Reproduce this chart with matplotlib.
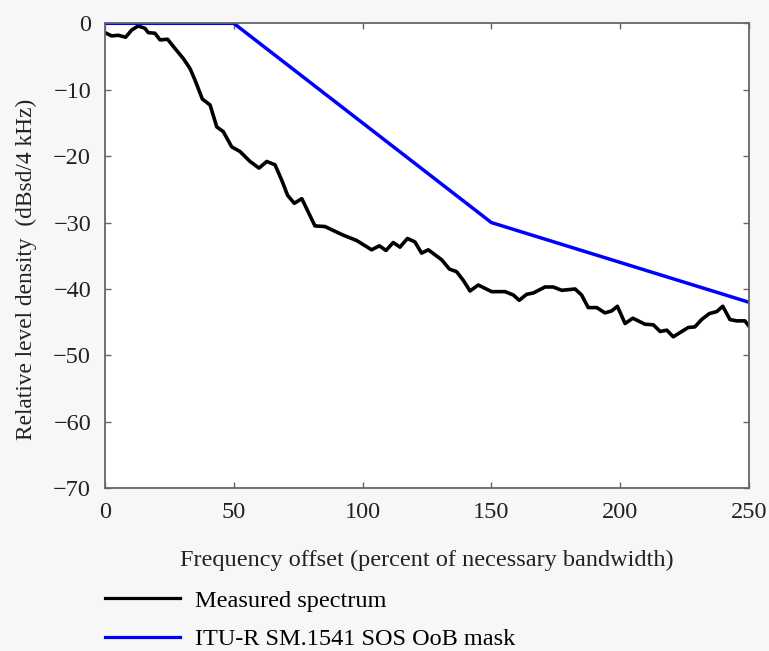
import matplotlib
matplotlib.use("Agg")
import matplotlib.pyplot as plt

# --- Donnees ----------------------------------------------------------------
freq_measured = [0, 2.6, 5.2, 8, 10.4, 12.9, 15.5, 16.8, 19.4, 21.4, 24.3, 27.2,
                 30.4, 33, 34.9, 37.8, 40.8, 43.4, 45.9, 49.2, 52.4, 56.3, 59.8,
                 62.8, 66, 68.6, 70.9, 73.5, 76.4, 78.9, 81.5, 85.4, 92.5, 97.7,
                 103.5, 106.5, 109.1, 111.9, 114.5, 117.4, 120.3, 122.9, 125.5,
                 130.7, 133.7, 136.5, 139.1, 141.7, 144.9, 150.1, 155.3, 158.5,
                 160.8, 163.7, 166.3, 170.8, 174, 177.3, 182.5, 185, 187.6, 190.9,
                 194.1, 196.7, 198.9, 201.9, 204.9, 209.6, 212.9, 215.5, 218.1,
                 220.6, 223.9, 226.4, 229, 231.6, 234.6, 237.5, 239.8, 242.6,
                 245.2, 248.4, 250]
level_measured = [-1.4, -1.9, -1.8, -2.1, -1.0, -0.4, -0.75, -1.4, -1.5, -2.5, -2.4,
                  -3.8, -5.3, -6.8, -8.5, -11.4, -12.3, -15.6, -16.3, -18.6, -19.3,
                  -20.8, -21.8, -20.8, -21.3, -23.6, -25.9, -27.1, -26.4, -28.4,
                  -30.5, -30.6, -31.9, -32.7, -34.1, -33.5, -34.2, -33.0, -33.7,
                  -32.4, -32.9, -34.6, -34.1, -35.6, -37.0, -37.4, -38.7, -40.3,
                  -39.4, -40.4, -40.4, -40.9, -41.7, -40.8, -40.6, -39.7, -39.7,
                  -40.2, -40.0, -40.9, -42.8, -42.8, -43.6, -43.3, -42.6, -45.2,
                  -44.4, -45.3, -45.4, -46.4, -46.2, -47.2, -46.4, -45.8, -45.7,
                  -44.6, -43.7, -43.4, -42.6, -44.6, -44.8, -44.8, -45.6]

freq_mask = [0, 50, 150, 250]
level_mask = [0, 0, -30, -42]

x_ticks = [0, 50, 100, 150, 200, 250]
y_ticks = [0, -10, -20, -30, -40, -50, -60, -70]

FS = 17.5
plt.rcParams["font.family"] = ["Liberation Serif", "DejaVu Serif"]
plt.rcParams["font.size"] = FS

fig = plt.figure(figsize=(7.69, 6.51), dpi=100, facecolor="#f7f7f7")
ax = fig.add_axes([0.1365, 0.25, 0.8375, 0.7142])
ax.set_facecolor("white")

ax.plot(freq_measured, level_measured, color="black", lw=2.6,
        label="Measured spectrum")
ax.plot(freq_mask, level_mask, color="#0000ff", lw=2.5,
        label="ITU-R SM.1541 SOS OoB mask")

ax.set_xlim(0, 250)
ax.set_ylim(-70, 0)
ax.set_xticks(x_ticks)
ax.set_yticks(y_ticks)
ax.tick_params(direction="in", length=4.5, width=1, colors="#666666",
               labelcolor="#222222", labelsize=FS, top=True, right=True, pad=10)
for s in ax.spines.values():
    s.set_color("#666666")
    s.set_linewidth(1.3)

ax.set_xlabel("Frequency offset (percent of necessary bandwidth)", fontsize=FS,
              color="#222222", labelpad=19)
ax.set_ylabel("Relative level density  (dBsd/4 kHz)", fontsize=16.8,
              color="#222222", labelpad=12)
ax.yaxis.label.set_y(0.47)

leg = fig.legend(loc="upper left", bbox_to_anchor=(0.1365, 0.094), frameon=False,
                 fontsize=FS, handlelength=3.1, handletextpad=0.62,
                 labelspacing=0.68, borderaxespad=0, borderpad=0)
for h in leg.legend_handles:
    h.set_linewidth(2.3)

fig.savefig("out.png", dpi=100, facecolor=fig.get_facecolor())
